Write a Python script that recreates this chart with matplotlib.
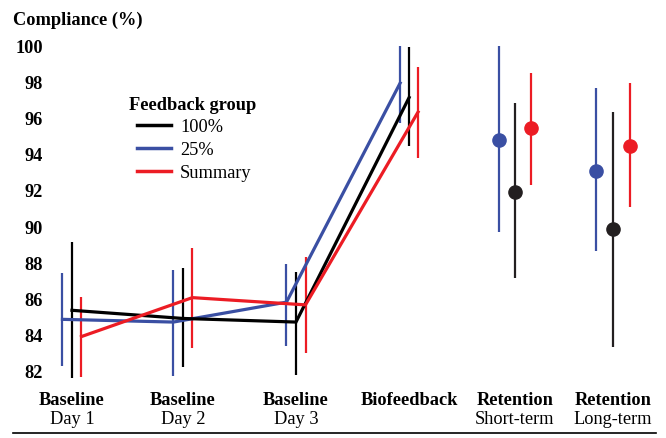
import numpy as np
import matplotlib.pyplot as plt
from matplotlib.lines import Line2D

plt.rcParams['font.family'] = ['Liberation Serif', 'DejaVu Serif']

# categories (bold line, plain line)
cat_top = ['Baseline', 'Baseline', 'Baseline', 'Biofeedback', 'Retention', 'Retention']
cat_bottom = ['Day 1', 'Day 2', 'Day 3', '', 'Short-term', 'Long-term']
cat_pos = [0, 0.99, 2.0, 3.01, 3.955, 4.83]

groups = ['100%', '25%', 'Summary']

# means
mean_100 = [85.35, 84.9, 84.7, 97.1, 91.9, 89.85]
mean_25 = [84.85, 84.7, 85.8, 97.9, 94.75, 93.05]
mean_sum = [83.9, 86.05, 85.65, 96.3, 95.4, 94.45]

# error bar bounds
low_100 = [81.6, 82.2, 81.8, 94.4, 87.15, 83.3]
high_100 = [89.1, 87.7, 87.45, 99.9, 96.8, 96.3]
low_25 = [82.3, 81.7, 83.4, 95.7, 89.65, 88.6]
high_25 = [87.4, 87.6, 87.9, 99.95, 99.95, 97.6]
low_sum = [81.65, 83.25, 83.0, 93.75, 92.25, 91.05]
high_sum = [86.1, 88.8, 88.3, 98.8, 98.45, 97.9]

yticks = [82, 84, 86, 88, 90, 92, 94, 96, 98, 100]

BLACK = '#000000'
BLACK2 = '#231f20'
BLUE = '#3a4fa3'
RED = '#ec1c24'
FS = 13.2

W, H = 666, 439
fig = plt.figure(figsize=(6.66, 4.39), dpi=100)
ax = fig.add_axes([47 / W, 0.1321, (665.6 - 47) / W, 0.7837])

pos = np.array(cat_pos)
off = np.array([0.085, 0.085, 0.085, 0.08, 0.145, 0.155])

series = [
    (mean_25, low_25, high_25, BLUE, -off),
    (mean_100, low_100, high_100, BLACK, 0 * off),
    (mean_sum, low_sum, high_sum, RED, off),
]

for m, lo, hi, col, o in series:
    x = pos + o
    ax.vlines(x[:4], lo[:4], hi[:4], color=col, lw=1.6, zorder=2)
    ax.plot(x[:4], m[:4], color=col, lw=2.3, zorder=3, solid_joinstyle='miter')
    c2 = BLACK2 if col == BLACK else col
    ax.vlines(x[4:], lo[4:], hi[4:], color=c2, lw=1.6, zorder=2)
    ax.plot(x[4:], m[4:], 'o', color=c2, ms=9.5, zorder=4)

ax.set_xlim(-0.223, 5.3)
ax.set_ylim(81.5, 100.5)
ax.set_yticks(yticks)
ax.set_yticklabels([str(t) for t in yticks], fontweight='bold', fontsize=FS)
ax.tick_params(axis='y', length=0, pad=3)
ax.set_xticks([])
for s in ax.spines.values():
    s.set_visible(False)

tr = ax.get_xaxis_transform()
for p, t, b in zip(cat_pos, cat_top, cat_bottom):
    ax.text(p, -0.032, t, transform=tr, ha='center', va='top', fontweight='bold', fontsize=FS)
    if b:
        ax.text(p, -0.086, b, transform=tr, ha='center', va='top', fontsize=FS)

fig.text(13 / W, 1 - 20 / H, 'Compliance (%)', ha='left', va='center', fontweight='bold', fontsize=FS)

# legend: title as its own text, entries indented under it
fig.text(129 / W, 1 - 105 / H, 'Feedback group', ha='left', va='center', fontweight='bold', fontsize=FS)
handles = [Line2D([], [], color=c, lw=2.5) for c in (BLACK, BLUE, RED)]
leg = ax.legend(handles, groups, loc='upper left',
                bbox_to_anchor=(137 / W, 1 - 119 / H), bbox_transform=fig.transFigure,
                frameon=False, fontsize=FS, handlelength=1.85, handletextpad=0.5,
                labelspacing=0.33, borderpad=0, borderaxespad=0)

fig.add_artist(Line2D([13 / W, 656 / W], [1 - 434 / H, 1 - 434 / H], color='black', lw=1.2))

fig.savefig('out.png', dpi=100)
